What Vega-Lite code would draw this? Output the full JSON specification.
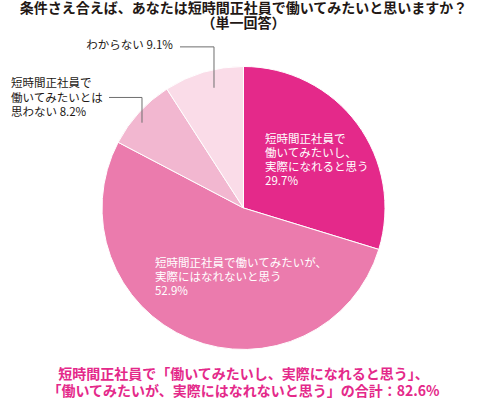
{
  "$schema": "https://vega.github.io/schema/vega-lite/v6.json",
  "width": 487,
  "height": 399,
  "autosize": {"type": "fit", "contains": "padding"},
  "padding": 0,
  "background": "white",
  "datasets": {
    "answers": [
      {"answer": "短時間正社員で働いてみたいし、実際になれると思う", "value": 29.7, "label": ["短時間正社員で", "働いてみたいし、", "実際になれると思う", "29.7%"]},
      {"answer": "短時間正社員で働いてみたいが、実際にはなれないと思う", "value": 52.9, "label": ["短時間正社員で働いてみたいが、", "実際にはなれないと思う", "52.9%"]},
      {"answer": "短時間正社員で働いてみたいとは思わない", "value": 8.2, "label": ["短時間正社員で", "働いてみたいとは", "思わない 8.2%"]},
      {"answer": "わからない", "value": 9.1, "label": ["わからない 9.1%"]}
    ]
  },
  "layer": [
    {
      "data": {"name": "answers"},
      "transform": [{"window": [{"op": "row_number", "as": "n"}]}],
      "mark": {"type": "arc", "radius": 141.5, "stroke": "white", "strokeWidth": 1},
      "encoding": {
        "x": {"datum": 0, "type": "quantitative", "scale": {"domain": [-1.7208, 1.7208], "nice": false, "zero": false}, "axis": null},
        "y": {"datum": 0, "type": "quantitative", "scale": {"domain": [-1.3463, 1.4735], "nice": false, "zero": false}, "axis": null},
        "theta": {"field": "value", "type": "quantitative", "stack": true},
        "order": {"field": "n", "type": "quantitative"},
        "color": {
          "field": "answer",
          "type": "nominal",
          "scale": {
            "domain": ["短時間正社員で働いてみたいし、実際になれると思う", "短時間正社員で働いてみたいが、実際にはなれないと思う", "短時間正社員で働いてみたいとは思わない", "わからない"],
            "range": ["#E4298A", "#EB7BAD", "#F2B7D0", "#FADCE8"]
          },
          "legend": null
        }
      }
    },
    {
      "data": {"name": "answers"},
      "transform": [{"window": [{"op": "row_number", "as": "n"}]}],
      "mark": {"type": "text", "radius": 60, "align": "left", "baseline": "middle", "dx": -26.7, "dy": -32.1, "font": "Noto Sans CJK JP", "fontSize": 11.5, "lineHeight": 14, "color": "white"},
      "encoding": {
        "x": {"datum": 0, "type": "quantitative", "axis": null},
        "y": {"datum": 0, "type": "quantitative", "axis": null},
        "theta": {"field": "value", "type": "quantitative", "stack": true},
        "order": {"field": "n", "type": "quantitative"},
        "detail": {"field": "answer", "type": "nominal"},
        "text": {"condition": {"test": "datum.n === 1", "field": "label"}, "value": ""}
      }
    },
    {
      "data": {"name": "answers"},
      "transform": [{"window": [{"op": "row_number", "as": "n"}]}],
      "mark": {"type": "text", "radius": 70, "align": "left", "baseline": "middle", "dx": -61.9, "dy": -8.3, "font": "Noto Sans CJK JP", "fontSize": 11.5, "lineHeight": 14, "color": "white"},
      "encoding": {
        "x": {"datum": 0, "type": "quantitative", "axis": null},
        "y": {"datum": 0, "type": "quantitative", "axis": null},
        "theta": {"field": "value", "type": "quantitative", "stack": true},
        "order": {"field": "n", "type": "quantitative"},
        "detail": {"field": "answer", "type": "nominal"},
        "text": {"condition": {"test": "datum.n === 2", "field": "label"}, "value": ""}
      }
    },
    {
      "data": {"name": "answers"},
      "transform": [{"window": [{"op": "row_number", "as": "n"}]}],
      "mark": {"type": "text", "radius": 145, "align": "left", "baseline": "middle", "dx": -125.4, "dy": -25.7, "font": "Noto Sans CJK JP", "fontSize": 11.5, "lineHeight": 14.3, "color": "#231815"},
      "encoding": {
        "x": {"datum": 0, "type": "quantitative", "axis": null},
        "y": {"datum": 0, "type": "quantitative", "axis": null},
        "theta": {"field": "value", "type": "quantitative", "stack": true},
        "order": {"field": "n", "type": "quantitative"},
        "detail": {"field": "answer", "type": "nominal"},
        "text": {"condition": {"test": "datum.n === 3", "field": "label"}, "value": ""}
      }
    },
    {
      "data": {"name": "answers"},
      "transform": [{"window": [{"op": "row_number", "as": "n"}]}],
      "mark": {"type": "text", "radius": 145, "align": "right", "baseline": "middle", "dx": -29.6, "dy": -22.4, "font": "Noto Sans CJK JP", "fontSize": 11.5, "lineHeight": 14, "color": "#231815"},
      "encoding": {
        "x": {"datum": 0, "type": "quantitative", "axis": null},
        "y": {"datum": 0, "type": "quantitative", "axis": null},
        "theta": {"field": "value", "type": "quantitative", "stack": true},
        "order": {"field": "n", "type": "quantitative"},
        "detail": {"field": "answer", "type": "nominal"},
        "text": {"condition": {"test": "datum.n === 4", "field": "label"}, "value": ""}
      }
    },
    {
      "data": {"values": [{}]},
      "mark": {"type": "rule", "color": "#6e6e6e", "strokeWidth": 1},
      "encoding": {
        "x": {"datum": -0.2085, "type": "quantitative", "axis": null},
        "y": {"datum": 0.8516, "type": "quantitative", "axis": null},
        "y2": {"datum": 1.1413}
      }
    },
    {
      "data": {"values": [{}]},
      "mark": {"type": "rule", "color": "#6e6e6e", "strokeWidth": 1},
      "encoding": {
        "x": {"datum": -0.4488, "type": "quantitative", "axis": null},
        "x2": {"datum": -0.2085},
        "y": {"datum": 1.1413, "type": "quantitative", "axis": null}
      }
    },
    {
      "data": {"values": [{}]},
      "mark": {"type": "rule", "color": "#6e6e6e", "strokeWidth": 1},
      "encoding": {
        "x": {"datum": -0.7173, "type": "quantitative", "axis": null},
        "y": {"datum": 0.6042, "type": "quantitative", "axis": null},
        "y2": {"datum": 0.783}
      }
    },
    {
      "data": {"values": [{}]},
      "mark": {"type": "rule", "color": "#6e6e6e", "strokeWidth": 1},
      "encoding": {
        "x": {"datum": -0.9505, "type": "quantitative", "axis": null},
        "x2": {"datum": -0.7173},
        "y": {"datum": 0.783, "type": "quantitative", "axis": null}
      }
    },
    {
      "data": {"values": [{}]},
      "mark": {"type": "text", "align": "center", "baseline": "middle", "font": "Noto Sans CJK JP", "fontSize": 14, "fontWeight": "bold", "lineHeight": 14.5, "color": "#231815"},
      "encoding": {
        "x": {"datum": 0, "type": "quantitative", "axis": null},
        "y": {"datum": 1.4064, "type": "quantitative", "axis": null},
        "text": {"value": ["条件さえ合えば、あなたは短時間正社員で働いてみたいと思いますか？", "（単一回答）"]}
      }
    },
    {
      "data": {"values": [{}]},
      "mark": {"type": "text", "align": "center", "baseline": "middle", "font": "Noto Sans CJK JP", "fontSize": 14, "fontWeight": "bold", "lineHeight": 17, "color": "#E4298A"},
      "encoding": {
        "x": {"datum": 0, "type": "quantitative", "axis": null},
        "y": {"datum": -1.1837, "type": "quantitative", "axis": null},
        "text": {"value": ["短時間正社員で「働いてみたいし、実際になれると思う」、", "「働いてみたいが、実際にはなれないと思う」の合計：82.6%"]}
      }
    }
  ],
  "config": {
    "view": {"stroke": null}
  }
}
